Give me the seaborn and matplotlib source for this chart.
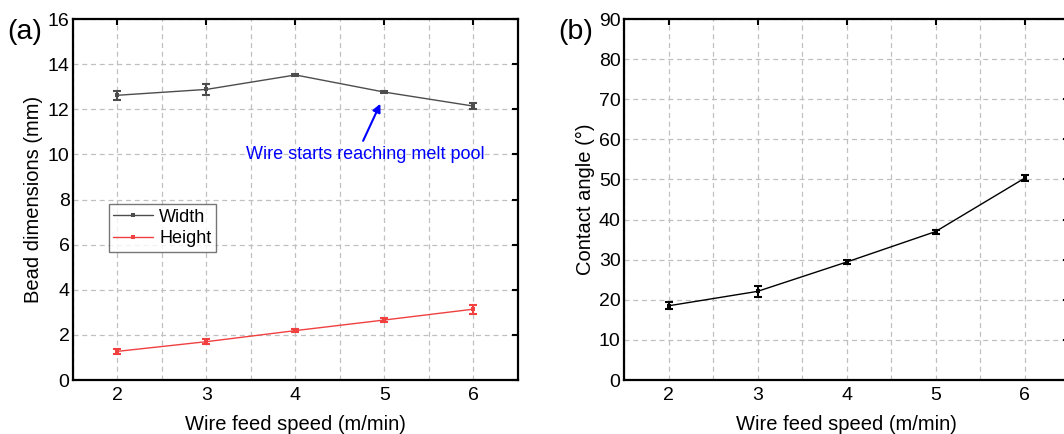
import numpy as np
import pandas as pd
import matplotlib
matplotlib.use('Agg')
import matplotlib.pyplot as plt
from matplotlib.ticker import MultipleLocator
import seaborn as sns

# data
speed = [2, 3, 4, 5, 6]
width = [12.62, 12.88, 13.52, 12.76, 12.14]
width_err = [0.20, 0.26, 0.04, 0.06, 0.15]
height = [1.27, 1.70, 2.19, 2.66, 3.14]
height_err = [0.12, 0.12, 0.06, 0.07, 0.20]
angle = [18.5, 22.1, 29.4, 37.0, 50.3]
angle_err = [0.9, 1.3, 0.5, 0.5, 0.8]

sns.set_style('white')
plt.rcParams['font.family'] = ['Liberation Sans', 'DejaVu Sans']
plt.rcParams.update({'text.color': 'black', 'axes.labelcolor': 'black',
                     'xtick.color': 'black', 'ytick.color': 'black'})

gray = '#4d4d4d'
red = '#f04040'

fig = plt.figure(figsize=(10.64, 4.34), dpi=100)
ax1 = fig.add_axes([0.0686, 0.1244, 0.4182, 0.8318])
ax2 = fig.add_axes([0.5865, 0.1244, 0.4182, 0.8318])

df = pd.DataFrame({'speed': speed, 'Width': width, 'Height': height, 'angle': angle})

# (a) bead dimensions
sns.lineplot(data=df, x='speed', y='Width', ax=ax1, color=gray, lw=1.0,
             marker='s', markersize=2.5, markeredgewidth=0, label='Width')
sns.lineplot(data=df, x='speed', y='Height', ax=ax1, color=red, lw=1.0,
             marker='s', markersize=2.5, markeredgewidth=0, label='Height')
ax1.errorbar(speed, width, yerr=width_err, fmt='none', ecolor=gray,
             elinewidth=1.5, capsize=3, capthick=1.5)
ax1.errorbar(speed, height, yerr=height_err, fmt='none', ecolor=red,
             elinewidth=1.5, capsize=3, capthick=1.5)
ax1.set_ylim(0, 16)
ax1.set_ylabel('Bead dimensions (mm)', fontsize=14.5, labelpad=3)
ax1.text(4.79, 10.0, 'Wire starts reaching melt pool', color='blue', fontsize=13,
         ha='center', va='center')
ax1.annotate('', xy=(4.96, 12.3), xytext=(4.76, 10.6),
             arrowprops=dict(arrowstyle='-|>', color='blue', lw=1.5,
                             shrinkA=0, shrinkB=1, mutation_scale=12))
leg = ax1.legend(loc='upper left', bbox_to_anchor=(0.08, 0.4875), fontsize=13,
                 frameon=True, fancybox=False, edgecolor='#555555',
                 handlelength=2.2, borderpad=0.25, labelspacing=0.25,
                 handletextpad=0.35, borderaxespad=0)
leg.get_frame().set_linewidth(1.0)
ax1.text(-0.07, 0.965, '(a)', transform=ax1.transAxes, fontsize=20.5, va='center', ha='right')

# (b) contact angle
sns.lineplot(data=df, x='speed', y='angle', ax=ax2, color='black', lw=1.0,
             marker='s', markersize=2.5, markeredgewidth=0)
ax2.errorbar(speed, angle, yerr=angle_err, fmt='none', ecolor='black',
             elinewidth=1.5, capsize=3, capthick=1.5)
ax2.set_ylim(0, 90)
ax2.yaxis.set_major_locator(MultipleLocator(10))
ax2.set_ylabel('Contact angle (°)', fontsize=14.5, labelpad=3)
ax2.text(-0.07, 0.965, '(b)', transform=ax2.transAxes, fontsize=20.5, va='center', ha='right')

for ax in (ax1, ax2):
    ax.set_xlim(1.5, 6.5)
    ax.xaxis.set_major_locator(MultipleLocator(1))
    ax.xaxis.set_minor_locator(MultipleLocator(0.5))
    ax.set_xlabel('Wire feed speed (m/min)', fontsize=14.5, labelpad=8)
    ax.grid(True, axis='x', which='both', ls=(0, (4, 3)), color='#c0c0c0', lw=0.9)
    ax.grid(True, axis='y', which='major', ls=(0, (4, 3)), color='#c0c0c0', lw=0.9)
    ax.tick_params(which='major', direction='in', length=4, width=1.5,
                   top=True, right=True, labelsize=14)
    ax.tick_params(axis='x', pad=5)
    ax.tick_params(axis='y', pad=2.5)
    ax.tick_params(which='minor', length=0)
    for s in ax.spines.values():
        s.set_linewidth(1.6)
        s.set_color('black')
    ax.set_axisbelow(True)

fig.savefig('out.png', dpi=100)
